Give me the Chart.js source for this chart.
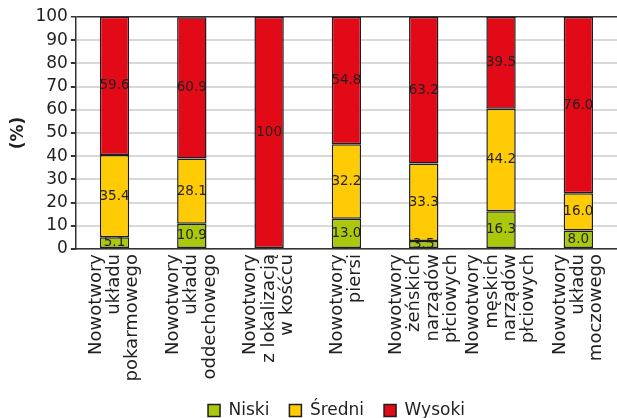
<!DOCTYPE html>
<html>
<head>
<meta charset="utf-8">
<script src="https://cdn.jsdelivr.net/npm/chart.js@4"></script>
<style>
  body { margin: 0; background: #fff; }
  #wrap { width: 617px; height: 418px; }
</style>
</head>
<body>
<div id="wrap"><canvas id="chart"></canvas></div>
<script>
// categories (one array of lines per bar)
const categories = [
  ['Nowotwory', 'układu', 'pokarmowego'],
  ['Nowotwory', 'układu', 'oddechowego'],
  ['Nowotwory', 'z lokalizacją', 'w kośćcu'],
  ['Nowotwory', 'piersi'],
  ['Nowotwory', 'żeńskich', 'narządów', 'płciowych'],
  ['Nowotwory', 'męskich', 'narządów', 'płciowych'],
  ['Nowotwory', 'układu', 'moczowego']
];

const niski = [5.1, 10.9, 0, 13.0, 3.5, 16.3, 8.0];
const sredni = [35.4, 28.1, 0, 32.2, 33.3, 44.2, 16.0];
const wysoki = [59.6, 60.9, 100, 54.8, 63.2, 39.5, 76.0];

const yTicks = [0, 10, 20, 30, 40, 50, 60, 70, 80, 90, 100];

const FONT = 'DejaVu Sans';
const TEXT = '#231f20';

// values written in the middle of each segment
const segmentLabels = {
  id: 'segmentLabels',
  afterDatasetsDraw(chart) {
    const ctx = chart.ctx;
    ctx.save();
    ctx.font = '13.5px ' + FONT;
    ctx.fillStyle = TEXT;
    ctx.textAlign = 'center';
    ctx.textBaseline = 'middle';
    chart.data.datasets.forEach((ds, i) => {
      const meta = chart.getDatasetMeta(i);
      meta.data.forEach((bar, j) => {
        const v = ds.data[j];
        if (!v) return;
        const mid = (bar.y + bar.base) / 2;
        const txt = v === 100 ? '100' : v.toFixed(1);
        ctx.fillText(txt, bar.x, mid);
      });
    });
    ctx.restore();
  }
};

// multi-line rotated category labels, centred on each bar
const LABEL_SIZE = 18;
const LINE_H = 18.3;
const categoryLabels = {
  id: 'categoryLabels',
  afterDraw(chart) {
    const ctx = chart.ctx;
    const x = chart.scales.x;
    ctx.save();
    ctx.font = LABEL_SIZE + 'px ' + FONT;
    ctx.fillStyle = TEXT;
    ctx.textAlign = 'right';
    ctx.textBaseline = 'middle';
    categories.forEach((lines, i) => {
      const px = x.getPixelForTick(i);
      ctx.save();
      ctx.translate(px, x.top + 5);
      ctx.rotate(-Math.PI / 2);
      lines.forEach((line, k) => {
        ctx.fillText(line, 0, (k - (lines.length - 1) / 2) * LINE_H);
      });
      ctx.restore();
    });
    ctx.restore();
  }
};

// nudge the legend to the right and down, as in the original
const legendShift = {
  id: 'legendShift',
  afterLayout(chart) {
    const lg = chart.legend;
    lg.left += 26;
    lg.right += 26;
    lg.top += 11;
    lg.bottom += 11;
  }
};

new Chart(document.getElementById('chart'), {
  type: 'bar',
  data: {
    labels: categories,
    datasets: [
      { label: 'Niski', data: niski, backgroundColor: '#acc80c' },
      { label: 'Średni', data: sredni, backgroundColor: '#ffcb05' },
      { label: 'Wysoki', data: wysoki, backgroundColor: '#e30a17' }
    ].map(d => Object.assign(d, {
      borderColor: '#1e1e1e',
      borderWidth: 1.5,
      borderSkipped: false,
      barPercentage: 0.38,
      categoryPercentage: 1
    }))
  },
  options: {
    responsive: true,
    maintainAspectRatio: false,
    animation: false,
    layout: { padding: { top: 17, right: 0, left: 4, bottom: 0 } },
    plugins: {
      legend: {
        position: 'bottom',
        labels: {
          boxWidth: 12,
          boxHeight: 12,
          padding: 20,
          color: TEXT,
          font: { family: FONT, size: 17 }
        }
      },
      tooltip: { enabled: false }
    },
    scales: {
      x: {
        stacked: true,
        grid: { display: false },
        border: { display: true, color: '#333', width: 1.5 },
        ticks: { display: false },
        afterFit: axis => {
          axis.height = 122;
          axis.paddingLeft = 0;
          axis.paddingRight = 0;
        }
      },
      y: {
        stacked: true,
        min: 0,
        max: 100,
        afterBuildTicks: axis => { axis.ticks = yTicks.map(v => ({ value: v })); },
        grid: {
          color: c => c.tick && c.tick.value === 100 ? '#333' : '#d9d9d9',
          lineWidth: c => c.tick && c.tick.value === 100 ? 1.5 : 2,
          tickColor: '#333',
          tickLength: 5
        },
        border: { display: true, color: '#333', width: 1.5 },
        ticks: {
          color: TEXT,
          padding: 3,
          autoSkip: false,
          font: { family: FONT, size: 17, lineHeight: 1 }
        },
        title: {
          display: true,
          text: '(%)',
          color: TEXT,
          padding: { bottom: 4 },
          font: { family: FONT, size: 17, weight: 'bold' }
        }
      }
    }
  },
  plugins: [segmentLabels, categoryLabels, legendShift]
});
</script>
</body>
</html>
